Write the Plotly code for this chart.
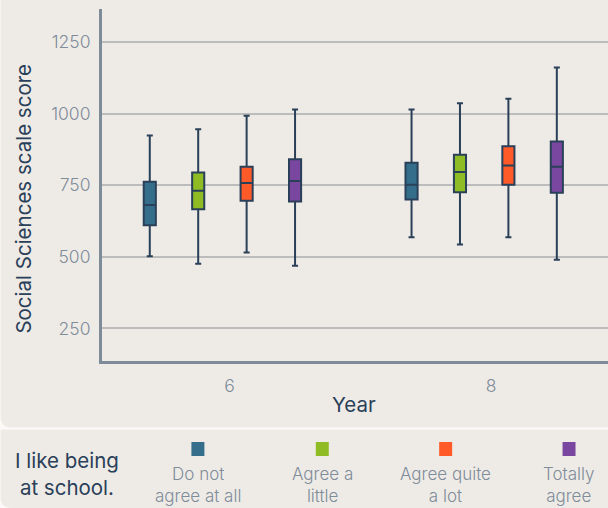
import plotly.graph_objects as go

# ---- data -------------------------------------------------------------
years = ["6", "8"]
series_names = ["Do not agree at all", "Agree a little", "Agree quite a lot", "Totally agree"]
legend_labels = ["Do not<br>agree at all", "Agree a<br>little", "Agree quite<br>a lot", "Totally<br>agree"]
colors = ["#346e8a", "#8fbc24", "#ff5a28", "#7a47a0"]

# one list per series, one value per year (6, 8)
lower_fence = [[502, 568], [476, 543], [515, 568], [469, 490]]
q1 = [[610, 700], [666, 726], [696, 752], [693, 724]]
median = [[681, 752], [731, 796], [758, 819], [765, 815]]
q3 = [[762, 829], [795, 857], [815, 886], [841, 903]]
upper_fence = [[924, 1015], [946, 1037], [993, 1052], [1015, 1162]]

y_ticks = [250, 500, 750, 1000, 1250]

# ---- layout constants -------------------------------------------------
W, H = 608, 508
ML, MR, MT, MB = 101.5, 0, 9, 147
PW, PH = W - ML - MR, H - MT - MB
FONT = "Inter, Open Sans, sans-serif"
NAVY = "#2a4058"
GREY_TXT = "#7f8c99"
AXIS = "#7d8c98"
PANEL = "#eeebe7"
PAGE = "#fbfaf8"


def xp(px):
    return (px - ML) / PW


def yp(py):
    return (H - MB - py) / PH


def panel_path(x0, y0, x1, y1, r):
    """Rectangle with a rounded bottom-left corner, in paper units."""
    return (
        f"M {xp(x0)},{yp(y0)} L {xp(x1)},{yp(y0)} L {xp(x1)},{yp(y1)} "
        f"L {xp(x0 + r)},{yp(y1)} Q {xp(x0)},{yp(y1)} {xp(x0)},{yp(y1 - r)} Z"
    )


fig = go.Figure()

for i, name in enumerate(series_names):
    fig.add_trace(
        go.Box(
            x=years,
            q1=q1[i],
            median=median[i],
            q3=q3[i],
            lowerfence=lower_fence[i],
            upperfence=upper_fence[i],
            name=name,
            fillcolor=colors[i],
            line=dict(color=NAVY, width=2),
            whiskerwidth=0.5,
            boxpoints=False,
            hoverinfo="skip",
            showlegend=False,
        )
    )

shapes = [
    dict(type="path", xref="paper", yref="paper", layer="below",
         path=panel_path(0, -20, 640, 427.5, 11), fillcolor=PANEL, line=dict(width=0)),
    dict(type="path", xref="paper", yref="paper", layer="below",
         path=panel_path(0, 429.5, 640, 508, 11), fillcolor=PANEL, line=dict(width=0)),
]

annotations = [
    dict(text="Social Sciences scale score", xref="paper", yref="paper",
         x=xp(22), y=yp(199), textangle=-90, showarrow=False,
         xanchor="center", yanchor="middle",
         font=dict(size=20.5, color=NAVY, family=FONT)),
    dict(text="Year", xref="paper", yref="paper", x=xp(354), y=yp(404),
         showarrow=False, xanchor="center", yanchor="middle",
         font=dict(size=20.5, color=NAVY, family=FONT)),
    dict(text="I like being<br>at school.", xref="paper", yref="paper",
         x=xp(66), y=yp(474), showarrow=False, xanchor="center", yanchor="middle",
         align="center", font=dict(size=20.5, color=NAVY, family=FONT)),
]

legend_x = [197.5, 322, 445.5, 569]
for i, lab in enumerate(legend_labels):
    cx = legend_x[i]
    shapes.append(dict(type="rect", xref="paper", yref="paper",
                       x0=xp(cx - 6.5), x1=xp(cx + 6.5), y0=yp(442), y1=yp(456),
                       fillcolor=colors[i], line=dict(width=0)))
    annotations.append(dict(text=lab, xref="paper", yref="paper", x=xp(cx), y=yp(485),
                            showarrow=False, xanchor="center", yanchor="middle",
                            align="center",
                            font=dict(size=17, color=GREY_TXT, family=FONT, weight=300)))

fig.update_layout(
    width=W, height=H,
    margin=dict(l=ML, r=MR, t=MT, b=MB, pad=0),
    paper_bgcolor=PAGE,
    plot_bgcolor="rgba(0,0,0,0)",
    boxmode="group",
    boxgap=0.26,
    boxgroupgap=0.75,
    showlegend=False,
    shapes=shapes,
    annotations=annotations,
    font=dict(family=FONT),
    xaxis=dict(
        type="category",
        range=[-0.46, 1.473],
        showline=True, linecolor=AXIS, linewidth=3,
        showgrid=False, zeroline=False, ticks="",
        tickfont=dict(size=17.5, color=GREY_TXT, family=FONT, weight=300),
        ticklabelshift=7, ticklabelstandoff=7,
        fixedrange=True,
    ),
    yaxis=dict(
        range=[136, 1366],
        tickvals=y_ticks,
        showline=True, linecolor=AXIS, linewidth=3,
        showgrid=True, gridcolor="#bcbcbc", gridwidth=1.5,
        zeroline=False, ticks="",
        tickfont=dict(size=17.5, color=GREY_TXT, family=FONT, weight=300),
        ticklabelstandoff=5,
        fixedrange=True,
    ),
)

fig.write_html("out.html", config={"displayModeBar": False})
